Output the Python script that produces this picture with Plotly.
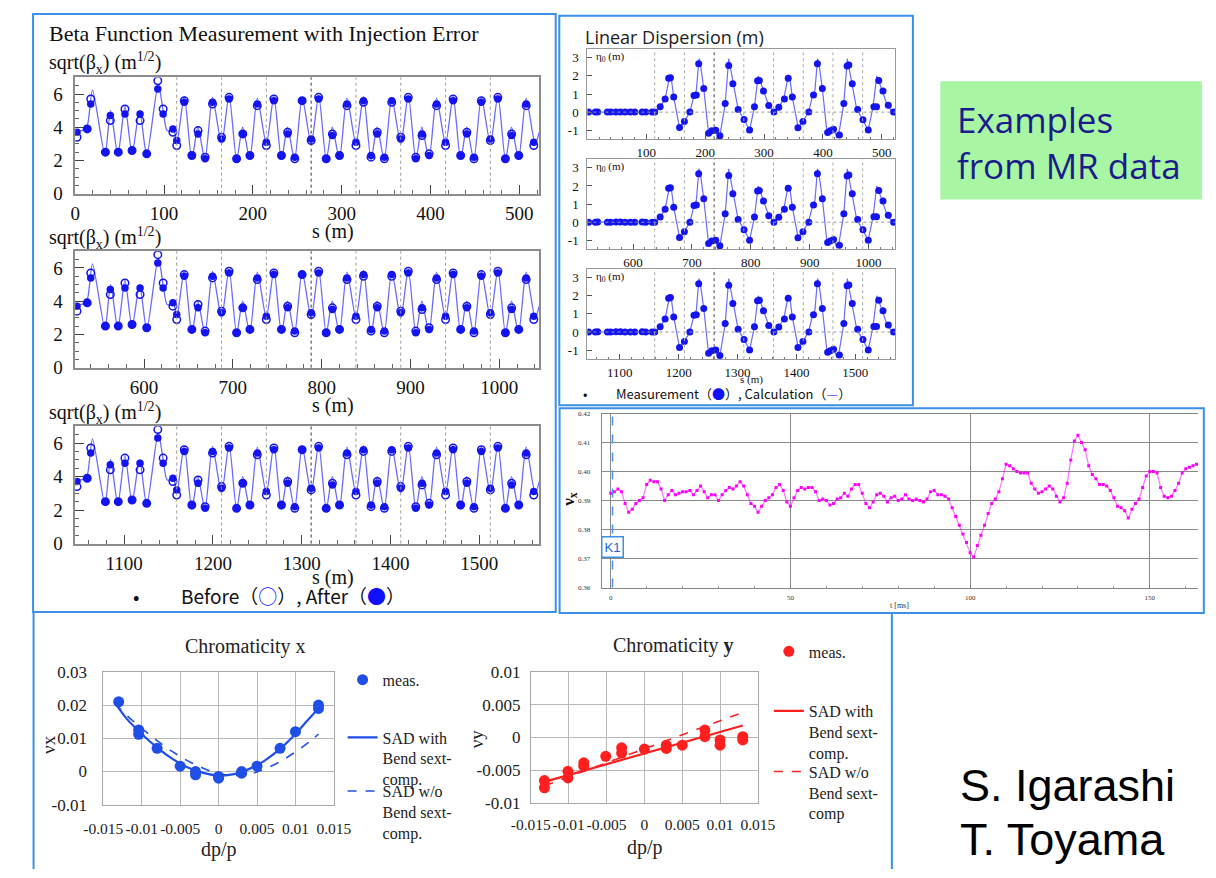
import plotly.graph_objects as go

W, H = 1216, 878
SERIF = "Liberation Serif, Times New Roman, serif"
SANS = "Open Sans, Noto Sans, sans-serif"
CJK = "Noto Sans CJK JP, sans-serif"
ARIAL = "Liberation Sans, Arial, sans-serif"

MARK_BLUE = "#1414f0"
LINE_BLUE = "#6a6aff"
FRAME_BLUE = "#3b8fe5"

# ---------------- beta function: one superperiod (s measured from its start) ----------------
panel_offsets = [0.0, 522.5, 1045.0]
beta_ticks = [[0, 100, 200, 300, 400, 500], [600, 700, 800, 900, 1000], [1100, 1200, 1300, 1400, 1500]]
disp_ticks = [[100, 200, 300, 400, 500], [600, 700, 800, 900, 1000], [1100, 1200, 1300, 1400, 1500]]
module_edges = [114.3, 164.75, 215.2, 265.65, 316.1, 366.55, 417.0, 467.45]

bpm_s = [2.0, 13.5, 17.5, 34.0, 39.5, 48.5, 56.0, 64.0, 73.0, 80.5, 93.0, 99.0, 110.0,
         114.3, 122.8, 131.3, 138.3, 146.3, 154.6,
         164.75, 173.2, 181.7, 188.7, 196.7, 205.0,
         215.2, 223.7, 232.2, 239.2, 247.2, 255.5,
         265.65, 274.1, 282.6, 289.6, 297.6, 306.0,
         316.1, 324.6, 333.1, 340.1, 348.1, 356.4,
         366.55, 375.0, 383.5, 390.5, 398.5, 406.9,
         417.0, 425.5, 434.0, 441.0, 449.0, 457.3,
         467.45, 475.9, 484.4, 491.4, 499.4, 507.8,
         516.3]
beta_before = [3.4, 3.9, 5.7, 2.5, 4.4, 2.5, 5.1, 2.6, 4.4, 2.4, 6.8, 5.1, 3.7,
               2.9, 5.6, 2.3, 3.8, 2.2, 5.4,
               3.4, 5.8, 2.1, 3.6, 2.3, 5.3,
               2.9, 5.7, 2.3, 3.7, 2.1, 5.6,
               3.2, 5.8, 2.1, 3.6, 2.3, 5.3,
               2.9, 5.5, 2.2, 3.7, 2.1, 5.5,
               3.4, 5.8, 2.2, 3.5, 2.4, 5.3,
               2.9, 5.7, 2.3, 3.7, 2.1, 5.6,
               3.2, 5.8, 2.1, 3.6, 2.3, 5.3,
               2.9]
beta_after = [3.7, 3.9, 5.4, 2.5, 4.7, 2.5, 4.8, 2.6, 4.8, 2.4, 6.3, 4.8, 3.9,
              3.2, 5.5, 2.3, 3.6, 2.1, 5.5,
              3.3, 5.7, 2.1, 3.6, 2.3, 5.4,
              3.1, 5.6, 2.3, 3.6, 2.2, 5.6,
              3.3, 5.7, 2.1, 3.5, 2.3, 5.4,
              3.1, 5.6, 2.3, 3.6, 2.2, 5.6,
              3.3, 5.7, 2.1, 3.6, 2.3, 5.4,
              3.1, 5.6, 2.3, 3.6, 2.2, 5.5,
              3.3, 5.7, 2.1, 3.5, 2.3, 5.4,
              3.1]
beta_line_s = [0.0, 12.0, 14.5, 19.5, 33.5, 39.8, 48.0, 56.0, 64.0, 72.5, 80.5, 93.5, 99.0, 103.5, 111.0,
               114.3, 122.8, 131.3, 138.1, 146.1, 154.6,
               164.75, 173.25, 181.75, 188.55, 196.55, 205.05,
               215.2, 223.7, 232.2, 239.0, 247.0, 255.5,
               265.65, 274.15, 282.65, 289.45, 297.45, 305.95,
               316.1, 324.6, 333.1, 339.9, 347.9, 356.4,
               366.55, 375.05, 383.55, 390.35, 398.35, 406.85,
               417.0, 425.5, 434.0, 440.8, 448.8, 457.3,
               467.45, 475.95, 484.45, 491.25, 499.25, 507.75,
               517.9, 522.5]
beta_line_v = [3.75, 3.9, 4.3, 6.25, 2.35, 5.0, 2.35, 5.25, 2.45, 5.0, 2.3, 6.6, 5.0, 3.8, 3.8,
               3.0, 5.85, 2.05, 4.0, 2.05, 5.8,
               3.0, 5.9, 2.05, 4.0, 2.1, 5.75,
               3.0, 5.85, 2.05, 4.0, 2.05, 5.8,
               3.0, 5.9, 2.05, 4.0, 2.1, 5.75,
               3.0, 5.85, 2.05, 4.0, 2.05, 5.8,
               3.0, 5.9, 2.05, 4.0, 2.1, 5.75,
               3.0, 5.85, 2.05, 4.0, 2.05, 5.8,
               3.0, 5.9, 2.05, 4.0, 2.1, 5.75,
               3.0, 3.7]

# ---------------- linear dispersion ----------------
disp_s = [2.0, 13.5, 17.5, 34.0, 39.5, 48.5, 56.0, 64.0, 73.0, 80.5, 93.0, 99.0, 110.0, 114.3,
          123.6, 132.0, 138.0, 141.0, 146.6, 156.5, 164.7, 174.0, 181.0, 185.0, 189.0, 197.6,
          205.8, 211.3, 218.0, 225.0, 234.0, 240.0, 247.0, 256.0, 266.0, 275.4, 283.7, 289.0, 292.0,
          299.0, 308.0, 316.7, 325.0, 334.6, 341.0, 348.0, 357.6, 366.0, 376.0, 384.0, 390.6, 399.0,
          408.0, 412.5, 418.0, 428.0, 435.5, 441.0, 444.0, 449.8, 459.0, 468.0, 477.0, 486.5, 491.0,
          494.8, 502.0, 511.0, 520.0]
disp_meas = [0.0, 0.0, 0.01, 0.0, 0.0, 0.01, 0.01, 0.0, 0.0, 0.0, 0.01, 0.0, 0.0, 0.0,
             0.29, 0.72, 1.87, 1.9, 0.83, -0.85, -0.52, 0.0, 0.92, 0.95, 2.67, 1.3,
             -1.17, -1.03, -1.0, -1.3, 0.47, 2.58, 1.57, 0.15, -0.41, -0.99, 0.29, 1.73, 1.75,
             1.17, 0.36, 0.0, 0.27, 0.72, 1.87, 0.83, -0.86, -0.52, 0.0, 0.95, 2.67, 1.3,
             -1.12, -1.03, -0.95, -1.27, 0.47, 2.55, 2.6, 1.57, 0.15, -0.42, -0.99, 0.3, 0.3,
             1.75, 1.17, 0.38, 0.0]
disp_line_s = [0.0, 112.0, 118.0, 123.6, 132.0, 136.0, 140.0, 142.5, 146.6, 156.5, 164.7, 174.0, 181.0,
               185.0, 189.5, 191.5, 197.6, 205.8, 211.3, 218.0, 222.0, 225.0, 234.0, 240.0, 242.0, 247.0,
               256.0, 266.0, 275.4, 283.7, 290.0, 292.5, 299.0, 308.0, 316.7, 325.0, 333.4, 337.4, 341.4,
               343.9, 348.0, 358.0, 366.0, 375.4, 382.4, 386.4, 390.9, 392.9, 399.0, 407.2, 412.7, 419.4,
               423.4, 426.4, 435.4, 441.4, 443.4, 448.4, 457.4, 467.4, 476.8, 485.1, 491.4, 493.9, 500.4,
               509.4, 518.1, 522.5]
disp_line_v = [0.0, 0.0, 0.05, 0.29, 0.72, 1.4, 2.05, 1.85, 0.83, -0.87, -0.52, 0.0, 0.9,
               1.2, 2.95, 2.75, 1.3, -1.2, -1.05, -1.0, -1.4, -1.3, 0.45, 2.95, 2.6, 1.57,
               0.15, -0.41, -1.0, 0.29, 2.0, 1.8, 1.17, 0.36, 0.0, 0.29, 0.72, 1.4, 2.05,
               1.85, 0.83, -0.87, -0.52, 0.0, 0.9, 1.2, 2.95, 2.75, 1.3, -1.2, -1.05, -1.0,
               -1.4, -1.3, 0.45, 2.95, 2.6, 1.57, 0.15, -0.41, -1.0, 0.29, 2.0, 1.8, 1.17,
               0.36, 0.0, 0.0]

# ---------------- horizontal tune vs time ----------------
tune_t = list(range(164))
tune_nu = [0.3925, 0.393, 0.394, 0.393, 0.389, 0.386, 0.387, 0.389, 0.390, 0.391,
           0.3955, 0.397, 0.3965, 0.3965, 0.394, 0.390, 0.392, 0.3935, 0.392, 0.3925,
           0.393, 0.393, 0.3935, 0.392, 0.3935, 0.395, 0.393, 0.391, 0.392, 0.392,
           0.390, 0.392, 0.3935, 0.3945, 0.394, 0.395, 0.3965, 0.395, 0.392, 0.389,
           0.388, 0.386, 0.388, 0.390, 0.391, 0.392, 0.3945, 0.3955, 0.3935, 0.3895,
           0.388, 0.391, 0.3935, 0.3945, 0.394, 0.3945, 0.3945, 0.393, 0.390, 0.3905,
           0.390, 0.3885, 0.389, 0.3905, 0.391, 0.3925, 0.3915, 0.394, 0.3955, 0.3955,
           0.3925, 0.389, 0.3875, 0.3895, 0.392, 0.3925, 0.3915, 0.3895, 0.391, 0.3915,
           0.390, 0.3905, 0.392, 0.3905, 0.390, 0.3905, 0.390, 0.3895, 0.3905, 0.393,
           0.3935, 0.392, 0.392, 0.3915, 0.3905, 0.3875, 0.3845, 0.3815, 0.3785, 0.3755,
           0.372, 0.3705, 0.3745, 0.378, 0.3815, 0.3855, 0.389, 0.3905, 0.393, 0.3975,
           0.4025, 0.402, 0.401, 0.400, 0.3995, 0.3995, 0.3995, 0.396, 0.394, 0.3925,
           0.393, 0.394, 0.395, 0.394, 0.3915, 0.3895, 0.391, 0.396, 0.404, 0.4105,
           0.4125, 0.410, 0.4075, 0.402, 0.399, 0.3975, 0.3955, 0.3955, 0.395, 0.3935,
           0.391, 0.388, 0.3875, 0.3865, 0.384, 0.387, 0.389, 0.3905, 0.3945, 0.3985,
           0.400, 0.400, 0.3995, 0.3945, 0.3915, 0.391, 0.3915, 0.3935, 0.396, 0.3995,
           0.401, 0.4015, 0.402, 0.4025]
kick_time = 0.5
tune_yticks = [0.36, 0.37, 0.38, 0.39, 0.40, 0.41, 0.42]
tune_ylabels = ["0.36", "0.37", "0.38", "0.39", "0.40", "0.41", "0.42"]

# ---------------- chromaticity ----------------
chrom_xticks = [-0.015, -0.01, -0.005, 0.0, 0.005, 0.01, 0.015]
chrom_xlabels = ["-0.015", "-0.01", "-0.005", "0", "0.005", "0.01", "0.015"]

chx_dp = [-0.013, -0.0104, -0.0104, -0.008, -0.005, -0.003, -0.003, 0.0, 0.0,
          0.003, 0.003, 0.005, 0.008, 0.010, 0.013, 0.013]
chx_meas = [0.0210, 0.0125, 0.0112, 0.0070, 0.0016, 0.0000, -0.0010, -0.0015, -0.0020,
            0.0000, -0.0005, 0.0016, 0.0070, 0.0120, 0.0200, 0.0190]
chx_sad_dp = [-0.0135, -0.012, -0.010, -0.008, -0.006, -0.004, -0.002, 0.0,
              0.002, 0.004, 0.006, 0.008, 0.010, 0.012, 0.013]
chx_sad_with = [0.0208, 0.0160, 0.0113, 0.0072, 0.0038, 0.0012, -0.0004, -0.0012,
                -0.0008, 0.0008, 0.0033, 0.0068, 0.0113, 0.0165, 0.0190]
chx_sad_wo = [0.0205, 0.0170, 0.0130, 0.0093, 0.0060, 0.0032, 0.0010, -0.0006,
              -0.0012, -0.0008, 0.0008, 0.0030, 0.0059, 0.0093, 0.0113]
chx_yticks = [-0.01, 0.0, 0.01, 0.02, 0.03]
chx_ylabels = ["-0.01", "0", "0.01", "0.02", "0.03"]

chy_dp = [-0.0132, -0.0132, -0.0101, -0.0101, -0.008, -0.008, -0.0051, -0.003, -0.003, 0.0,
          0.0029, 0.0029, 0.005, 0.008, 0.008, 0.010, 0.010, 0.013, 0.013]
chy_meas = [-0.0066, -0.0077, -0.0052, -0.0062, -0.0039, -0.0044, -0.0029, -0.0016, -0.0024, -0.0018,
            -0.0012, -0.0017, -0.0012, 0.0011, 0.0001, -0.0004, -0.0012, 0.0001, -0.0004]
chy_sad_dp = [-0.0132, 0.013]
chy_sad_with = [-0.0068, 0.0018]
chy_sad_wo = [-0.0074, 0.0038]
chy_yticks = [-0.01, -0.005, 0.0, 0.005, 0.01]
chy_ylabels = ["-0.01", "-0.005", "0", "0.005", "0.01"]


def fx(px):
    return px / W


def fy(py):
    return 1 - py / H


def xdom(a, b):
    return [fx(a), min(fx(b), 1.0)]


def ydom(top, bottom):
    return [fy(bottom), fy(top)]


def ax_names(n):
    return ("x" if n == 1 else f"x{n}"), ("y" if n == 1 else f"y{n}")


fig = go.Figure()
axes = {}
shapes = []
annotations = []


def text(x, y, s, size, family=SERIF, color="#111", xanchor="left", yanchor="middle", **kw):
    annotations.append(dict(x=fx(x), y=fy(y), xref="paper", yref="paper", text=s, showarrow=False,
                            xanchor=xanchor, yanchor=yanchor,
                            font=dict(family=family, size=size, color=color), **kw))


# ---------------- beta function panels ----------------
beta_rows = [(70, 189), (248, 367), (427, 547)]
for i, (off, (top, bot)) in enumerate(zip(panel_offsets, beta_rows)):
    n = i + 1
    xa, ya = ax_names(n)
    fig.add_trace(go.Scatter(x=[s + off for s in beta_line_s], y=beta_line_v, mode="lines",
                             line=dict(color=LINE_BLUE, width=1.3, shape="spline", smoothing=0.7),
                             xaxis=xa, yaxis=ya, showlegend=False, hoverinfo="skip"))
    xs = [s + off for s in bpm_s]
    fig.add_trace(go.Scatter(x=xs, y=beta_after, mode="markers",
                             marker=dict(symbol="circle", size=7.5, color=MARK_BLUE),
                             xaxis=xa, yaxis=ya, showlegend=False))
    fig.add_trace(go.Scatter(x=xs, y=beta_before, mode="markers",
                             marker=dict(symbol="circle-open", size=7.5, color=MARK_BLUE, line=dict(width=1.5)),
                             xaxis=xa, yaxis=ya, showlegend=False))
    axes["xaxis" if n == 1 else f"xaxis{n}"] = dict(
        domain=xdom(57, 536), range=[off, off + 522.5], anchor=ya,
        tickvals=beta_ticks[i], ticks="inside", ticklen=9, tickcolor="#444", tickwidth=1,
        minor=dict(ticks="inside", ticklen=4, dtick=20, tick0=0, tickcolor="#666"),
        showline=True, linecolor="#8c8c8c", linewidth=1.5, mirror=True,
        showgrid=False, zeroline=False, ticklabelstandoff=2,
        tickfont=dict(family=SERIF, size=19, color="#111"))
    axes["yaxis" if n == 1 else f"yaxis{n}"] = dict(
        domain=ydom(top, bot), range=[0, 7], anchor=xa,
        tickvals=[0, 2, 4, 6], ticks="inside", ticklen=9, tickcolor="#444",
        minor=dict(ticks="inside", ticklen=4, dtick=0.5, tick0=0, tickcolor="#666"),
        showline=True, linecolor="#8c8c8c", linewidth=1.5, mirror=True,
        showgrid=False, zeroline=False, ticklabelstandoff=7,
        tickfont=dict(family=SERIF, size=19, color="#111"))
    for k, e in enumerate(module_edges):
        shapes.append(dict(type="line", xref=xa, yref=f"{ya} domain", x0=e + off, x1=e + off, y0=0, y1=1,
                           line=dict(color="#333" if k == 3 else "#9a9a9a", width=1, dash="dot")))

text(28, 25, "Beta Function Measurement with Injection Error", 22)
for y in (55, 234, 413):
    text(28, y, "sqrt(β<sub>x</sub>) (m<sup>1/2</sup>)", 20)
for y in (228, 406, 582):
    text(323, y, "s (m)", 20, xanchor="center")
text(120, 600, "•", 19, family=CJK, xanchor="center")
text(164, 600, 'Before（<span style="color:#1010ff">○</span>）, After（<span style="color:#1010ff">●</span>）',
     19, family=CJK)

# ---------------- dispersion panels ----------------
disp_rows = [(40.7, 133.3), (153.3, 246.0), (265.7, 358.3)]
for i, (off, (top, bot)) in enumerate(zip(panel_offsets, disp_rows)):
    n = 4 + i
    xa, ya = ax_names(n)
    fig.add_trace(go.Scatter(x=[s + off for s in disp_line_s], y=disp_line_v, mode="lines",
                             line=dict(color=LINE_BLUE, width=1.2),
                             xaxis=xa, yaxis=ya, showlegend=False, hoverinfo="skip"))
    fig.add_trace(go.Scatter(x=[s + off for s in disp_s], y=disp_meas, mode="markers",
                             marker=dict(symbol="circle", size=7, color=MARK_BLUE),
                             xaxis=xa, yaxis=ya, showlegend=False))
    axes[f"xaxis{n}"] = dict(
        domain=xdom(585.7, 903.3), range=[off, off + 522.5], anchor=ya,
        tickvals=disp_ticks[i], ticks="inside", ticklen=5, tickcolor="#555",
        minor=dict(ticks="inside", ticklen=2.5, dtick=20, tick0=0, tickcolor="#777"),
        showline=True, linecolor="#999", linewidth=1.2, mirror=True,
        showgrid=False, zeroline=False, ticklabelstandoff=1,
        tickfont=dict(family=SERIF, size=13, color="#111"))
    axes[f"yaxis{n}"] = dict(
        domain=ydom(top, bot), range=[-1.5, 3.5], anchor=xa,
        tickvals=[-1, 0, 1, 2, 3], ticktext=["-1", "0", "1", "2", "3"],
        ticks="inside", ticklen=5, tickcolor="#555",
        showline=True, linecolor="#999", linewidth=1.2, mirror=True,
        showgrid=False, zeroline=False, ticklabelstandoff=5,
        tickfont=dict(family=SERIF, size=13, color="#111"))
    shapes.append(dict(type="line", xref=f"{xa} domain", yref=ya, x0=0, x1=1, y0=0, y1=0,
                       line=dict(color="#999", width=1, dash="dot")))
    for k, e in enumerate(module_edges):
        shapes.append(dict(type="line", xref=xa, yref=f"{ya} domain", x0=e + off, x1=e + off, y0=0, y1=1,
                           line=dict(color="#444" if k == 2 else "#aaa", width=1, dash="dot")))
    text(592, top + 8.5, "η<sub>0</sub> (m)", 11)

text(581, 29, "Linear Dispersion (m)", 18, family=SANS, color="#222")
text(755, 379, "s (m)", 11, xanchor="center")
text(583, 393, "•", 13, family=CJK, xanchor="center")
text(613, 393, 'Measurement（<span style="color:#1010ff">●</span>）, Calculation（<span style="color:#5555ff">—</span>）',
     13, family=CJK)

# ---------------- tune panel ----------------
fig.add_trace(go.Scatter(x=tune_t, y=tune_nu, mode="lines+markers",
                         line=dict(color="rgba(255,0,255,0.55)", width=1.2),
                         marker=dict(symbol="square", size=3, color="#ff00ff"),
                         xaxis="x7", yaxis="y7", showlegend=False))
axes["xaxis7"] = dict(
    domain=xdom(600.5, 1216), range=[-2.5, 163.4], anchor="y7",
    tickvals=[0, 50, 100, 150], ticks="inside", ticklen=3, tickcolor="#777",
    minor=dict(ticks="inside", ticklen=2, dtick=10, tick0=0, tickcolor="#999", showgrid=False),
    showgrid=True, gridcolor="#8a8a8a", gridwidth=1.3,
    showline=True, linecolor="#888", linewidth=1, mirror=True, zeroline=False,
    ticklabelstandoff=3, tickfont=dict(family=SERIF, size=7, color="#333"))
axes["yaxis7"] = dict(
    domain=ydom(414, 592), range=[0.36, 0.42], anchor="x7",
    tickvals=tune_yticks, ticktext=tune_ylabels, ticks="",
    showgrid=True, gridcolor="#8a8a8a", gridwidth=1.3,
    showline=True, linecolor="#888", linewidth=1, mirror=False, zeroline=False,
    ticklabelstandoff=9, tickfont=dict(family=SERIF, size=7, color="#333"))
shapes.append(dict(type="line", xref="x7", yref="y7 domain", x0=kick_time, x1=kick_time, y0=0, y1=1,
                   line=dict(color="#4a90e8", width=1.5, dash="dash")))
text(567, 502, "<b>ν<sub>x</sub></b>", 17, textangle=-90, xanchor="center")
text(908, 610, "t [ms]", 8, xanchor="center", color="#333")
annotations.append(dict(x=fx(612), y=fy(550.5), xref="paper", yref="paper", text="K1", showarrow=False,
                        xanchor="center", yanchor="middle", bgcolor="white", bordercolor=FRAME_BLUE,
                        borderwidth=1.5, borderpad=2, font=dict(family=ARIAL, size=13, color="#1f5fd8")))


# ---------------- chromaticity panels ----------------
def chrom_axes(n, x0, x1, top, bot, yr, yticks, ylabels, xstand, ystand):
    xa, ya = ax_names(n)
    common = dict(showgrid=True, gridcolor="#b8b8b8", gridwidth=1, showline=True, linecolor="#a8a8a8",
                  linewidth=1, mirror=True, zeroline=False, ticks="")
    axes[f"xaxis{n}"] = dict(domain=xdom(x0, x1), range=[-0.015, 0.015], anchor=ya,
                             tickvals=chrom_xticks, ticktext=chrom_xlabels, ticklabelstandoff=xstand,
                             tickangle=0, tickfont=dict(family=SERIF, size=15.5, color="#222"), **common)
    axes[f"yaxis{n}"] = dict(domain=ydom(top, bot), range=yr, anchor=xa,
                             tickvals=yticks, ticktext=ylabels, ticklabelstandoff=ystand,
                             tickfont=dict(family=SERIF, size=17, color="#222"), **common)


chrom_axes(8, 86, 324, 678.3, 814.3, [-0.01, 0.03], chx_yticks, chx_ylabels, 10, 12)
chrom_axes(9, 527.3, 761.7, 678.3, 812.3, [-0.01, 0.01], chy_yticks, chy_ylabels, 8, 6)

CX = "#1f4fe6"
CY = "#ff1f1f"
fig.add_trace(go.Scatter(x=chx_dp, y=chx_meas, mode="markers", name="meas.",
                         marker=dict(size=11, color=CX), xaxis="x8", yaxis="y8", legend="legend"))
fig.add_trace(go.Scatter(x=chx_sad_dp, y=chx_sad_with, mode="lines", name="SAD with<br>Bend sext-<br>comp.",
                         line=dict(color=CX, width=2.2, shape="spline"), xaxis="x8", yaxis="y8", legend="legend2"))
fig.add_trace(go.Scatter(x=chx_sad_dp, y=chx_sad_wo, mode="lines", name="SAD w/o<br>Bend sext-<br>comp.",
                         line=dict(color=CX, width=1.6, dash="dash", shape="spline"), xaxis="x8", yaxis="y8",
                         legend="legend3"))
fig.add_trace(go.Scatter(x=chy_dp, y=chy_meas, mode="markers", name="meas.",
                         marker=dict(size=11, color=CY), xaxis="x9", yaxis="y9", legend="legend4"))
fig.add_trace(go.Scatter(x=chy_sad_dp, y=chy_sad_with, mode="lines", name="SAD with<br>Bend sext-<br>comp.",
                         line=dict(color=CY, width=2.2), xaxis="x9", yaxis="y9", legend="legend5"))
fig.add_trace(go.Scatter(x=chy_sad_dp, y=chy_sad_wo, mode="lines", name="SAD w/o<br>Bend sext-<br>comp",
                         line=dict(color=CY, width=1.6, dash="dash"), xaxis="x9", yaxis="y9", legend="legend6"))


def legend_at(x, ytop):
    return dict(x=fx(x), y=fy(ytop), xanchor="left", yanchor="top", bgcolor="rgba(0,0,0,0)",
                borderwidth=0, valign="top", itemwidth=30,
                font=dict(family=SERIF, size=16, color="#222"))


legends = dict(legend=legend_at(333, 669), legend2=legend_at(333, 728), legend3=legend_at(333, 783),
               legend4=legend_at(773, 640), legend5=legend_at(773, 701), legend6=legend_at(773, 763))

text(233, 652, "Chromaticity x", 20, xanchor="center", color="#222")
text(675, 651, "Chromaticity <b>y</b>", 20, xanchor="center", color="#222")
text(30, 753, "νx", 19, textangle=-90, xanchor="center", color="#222")
text(472, 747, "νy", 19, textangle=-90, xanchor="center", color="#222")
text(205, 860, "dp/p", 20, xanchor="center", color="#222")
text(645, 858, "dp/p", 20, xanchor="center", color="#222")

# ---------------- side notes ----------------
shapes.append(dict(type="rect", xref="paper", yref="paper", x0=fx(950), x1=fx(1220), y0=fy(195), y1=fy(74),
                   fillcolor="#a8f5a4", line=dict(width=0), layer="below"))
text(965, 113, "Examples", 35, family=SANS, color="#1b1b8c")
text(965, 160, "from MR data", 35, family=SANS, color="#1b1b8c")
text(968, 795, "S. Igarashi", 45, family=ARIAL, color="#000")
text(968, 850, "T. Toyama", 45, family=ARIAL, color="#000")


# ---------------- panel frames ----------------
def frame(x0, y0, x1, y1):
    shapes.append(dict(type="rect", xref="paper", yref="paper", x0=fx(x0), x1=fx(x1), y0=fy(y1), y1=fy(y0),
                       line=dict(color=FRAME_BLUE, width=2), fillcolor="rgba(0,0,0,0)"))


def seg(x0, y0, x1, y1):
    shapes.append(dict(type="line", xref="paper", yref="paper", x0=fx(x0), x1=fx(x1), y0=fy(y0), y1=fy(y1),
                       line=dict(color=FRAME_BLUE, width=2)))


frame(13.5, 5, 553, 617)
frame(556.7, 7, 921.7, 405.5)
frame(557, 408.5, 1222, 618)
seg(14, 617, 14, 880)
seg(900, 617, 900, 880)

fig.update_layout(width=W, height=H, margin=dict(l=0, r=0, t=0, b=0),
                  paper_bgcolor="white", plot_bgcolor="white",
                  shapes=shapes, annotations=annotations, hovermode=False, **axes, **legends)
fig.write_html("out.html")
